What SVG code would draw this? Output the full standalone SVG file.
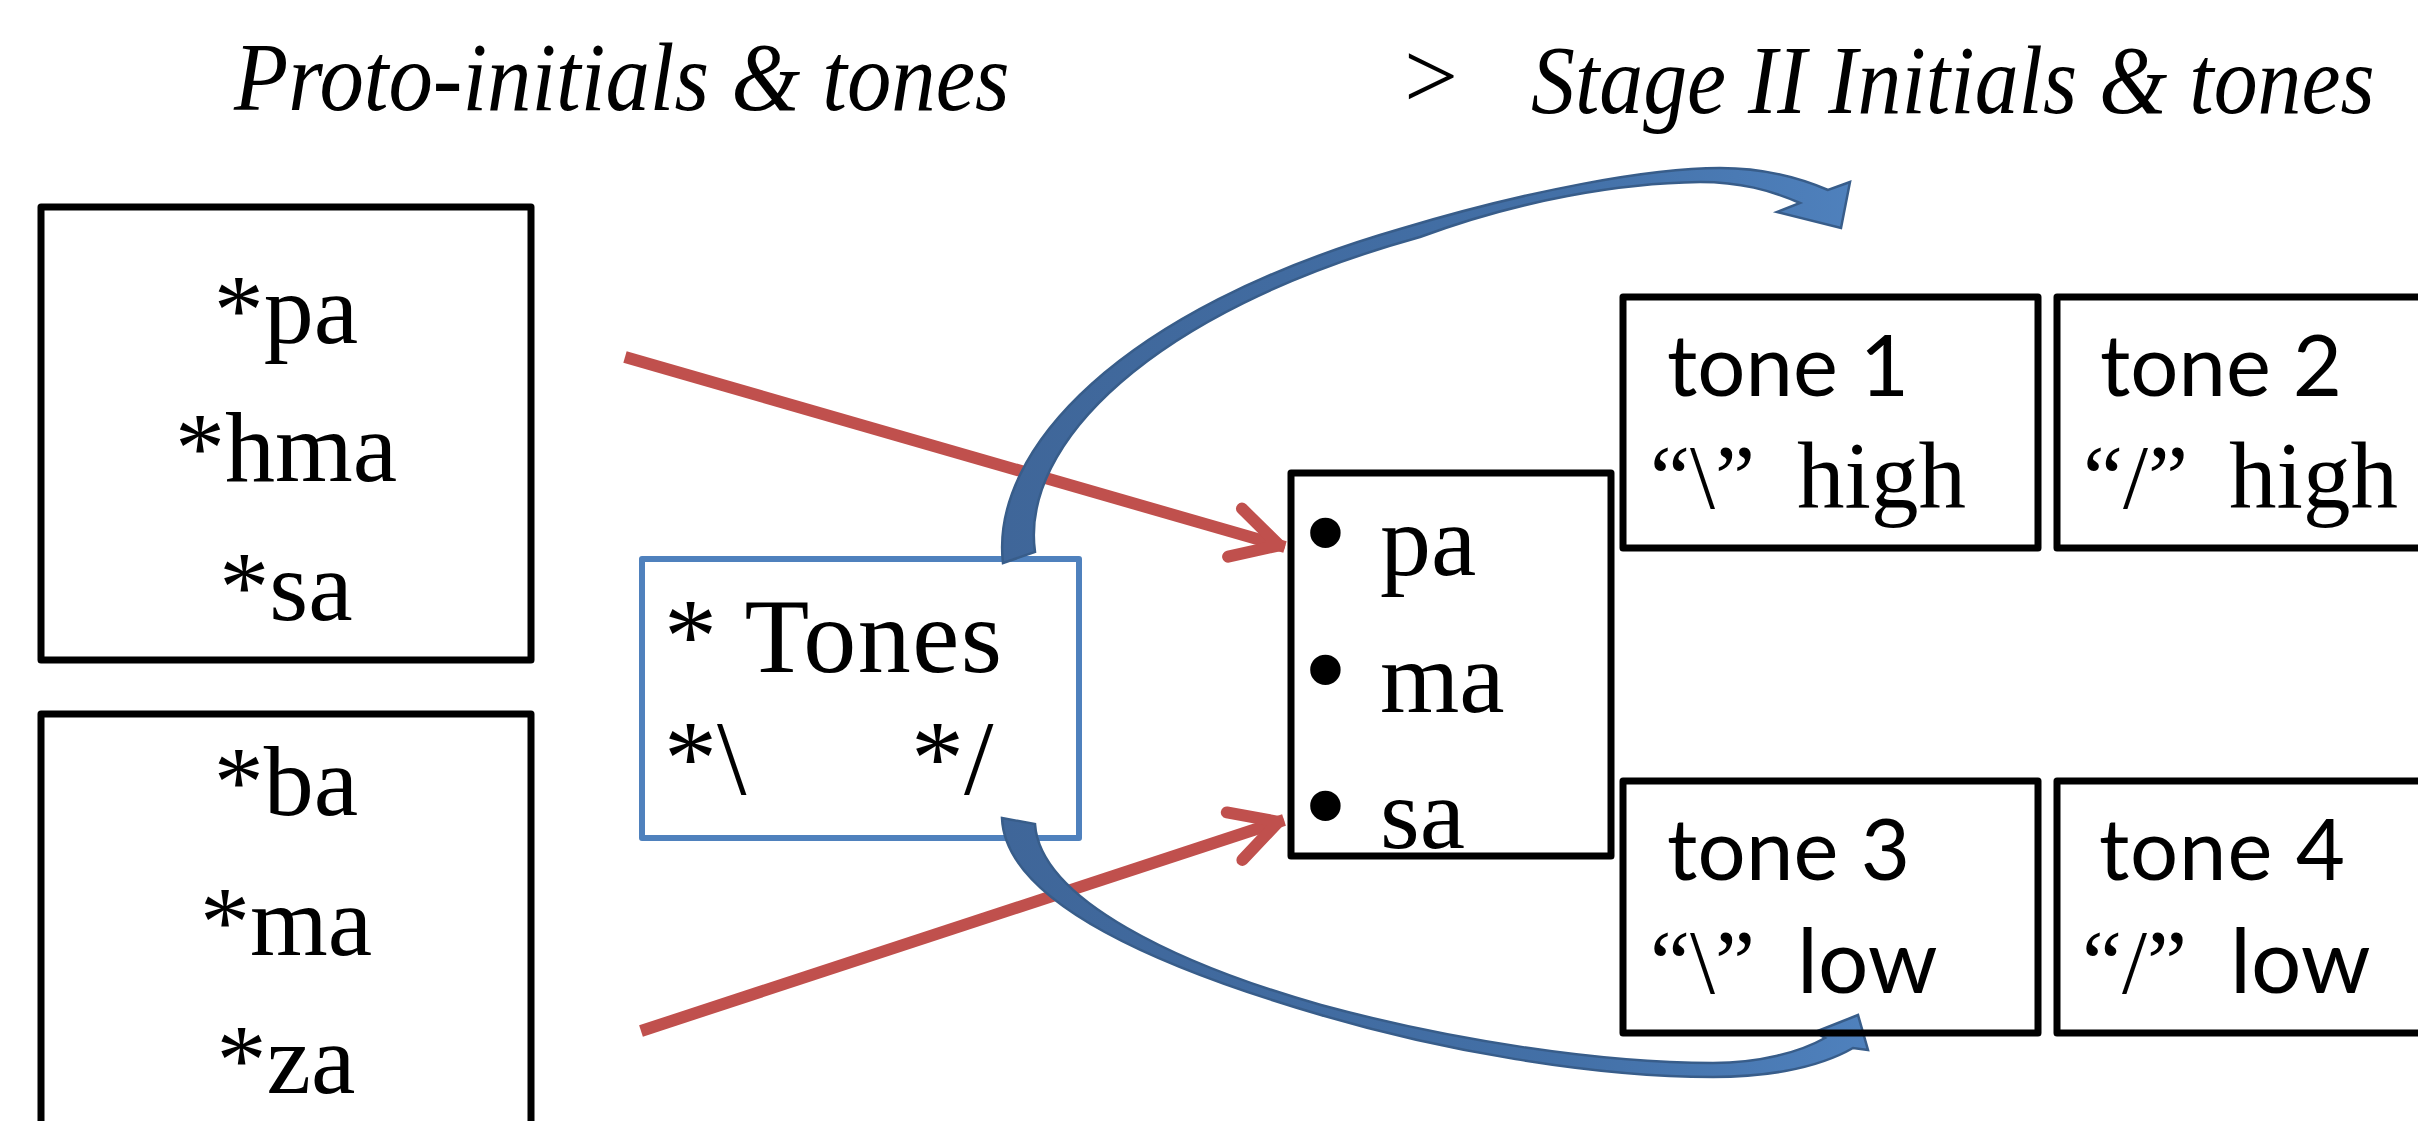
<svg xmlns="http://www.w3.org/2000/svg" width="2418" height="1121" viewBox="0 0 2418 1121">
<style>
.ser{font-family:"Liberation Serif","Times New Roman",serif;fill:#000}
.sans{font-family:Lato,"Liberation Sans",sans-serif;fill:#000}
.box{fill:none;stroke:#000;stroke-width:7;stroke-linejoin:round}
.bluebox{fill:#fff;stroke:#4F81BD;stroke-width:6;stroke-linejoin:round}
.red{fill:none;stroke:#C0504D;stroke-width:12}
.curved{stroke:#385D8A;stroke-width:2.5;stroke-linejoin:miter}
</style>
<defs>
<marker id="redhead" markerUnits="userSpaceOnUse" orient="auto" refX="0" refY="0" markerWidth="100" markerHeight="100" viewBox="-70 -50 100 100" overflow="visible">
<path d="M-52,-25 L-6,0 L-52,25" fill="none" stroke="#C0504D" stroke-width="12" stroke-linecap="round" stroke-linejoin="round"/>
</marker>
<linearGradient id="gTop" gradientUnits="userSpaceOnUse" x1="1000" y1="0" x2="1860" y2="0">
<stop offset="0" stop-color="#3F6699"/>
<stop offset="0.65" stop-color="#4370A7"/>
<stop offset="1" stop-color="#4F81BD"/>
</linearGradient>
<linearGradient id="gBot" gradientUnits="userSpaceOnUse" x1="1000" y1="0" x2="1870" y2="0">
<stop offset="0" stop-color="#3F6699"/>
<stop offset="0.65" stop-color="#4370A7"/>
<stop offset="1" stop-color="#4F81BD"/>
</linearGradient>
</defs>
<rect width="2418" height="1121" fill="#fff"/>

<g id="titles">
<text class="ser" font-style="italic" transform="translate(234,110) scale(0.915,1)" font-size="97">Proto-initials &amp; tones</text>
<text class="ser" x="1404" y="108" font-size="96">&gt;</text>
<text class="ser" font-style="italic" transform="translate(1531,113) scale(0.905,1)" font-size="97">Stage II Initials &amp; tones</text>
</g>

<g id="proto-box-1">
<rect class="box" x="41" y="207" width="490" height="453"/>
<text class="ser" font-size="100" text-anchor="middle" x="286" y="343">*pa</text>
<text class="ser" font-size="100" text-anchor="middle" x="286" y="481">*hma</text>
<text class="ser" font-size="100" text-anchor="middle" x="286" y="620">*sa</text>
</g>

<g id="proto-box-2">
<rect class="box" x="41" y="714" width="490" height="453"/>
<text class="ser" font-size="100" text-anchor="middle" x="286" y="815">*ba</text>
<text class="ser" font-size="100" text-anchor="middle" x="286" y="955">*ma</text>
<text class="ser" font-size="100" text-anchor="middle" x="286" y="1093">*za</text>
</g>

<g id="tones-box">
<rect class="bluebox" x="642" y="559" width="437" height="279"/>
<text class="ser" font-size="106" x="664" y="672" textLength="338">* Tones</text>
<text class="ser" font-size="106" y="794"><tspan x="664">*\ </tspan><tspan x="911">*/</tspan></text>
</g>

<g id="stage2-initials">
<rect class="box" x="1291" y="473" width="320" height="383"/>
<text class="ser" font-size="102" y="575"><tspan x="1303" font-size="128">• </tspan><tspan x="1380">pa</tspan></text>
<text class="ser" font-size="102" y="712"><tspan x="1303" font-size="128">• </tspan><tspan x="1380">ma</tspan></text>
<text class="ser" font-size="102" y="848"><tspan x="1303" font-size="128">• </tspan><tspan x="1380">sa</tspan></text>
</g>

<g id="connectors">
<line class="red" x1="625" y1="357" x2="1285" y2="547" marker-end="url(#redhead)"/>
<line class="red" x1="641" y1="1031" x2="1284" y2="820" marker-end="url(#redhead)"/>
<path class="curved" fill="url(#gTop)" d="M1003,563 C990,450 1120,310 1400,229 C1530,190 1650,168 1720,168 C1765,168 1800,178 1828,190 L1850,182 L1841,228 L1777,212 L1800,203 C1770,190 1740,182 1700,182 C1620,183 1520,200 1420,237 C1150,312 1020,445 1035,552 Z"/>
<path class="curved" fill="url(#gBot)" d="M1002,818 L1035,824 C1040,900 1180,965 1321,1005 C1450,1040 1600,1063 1713,1063 C1760,1063 1800,1052 1825,1038 L1815,1032 L1858,1015 L1868,1050 L1853,1048 C1815,1070 1760,1077 1713,1077 C1590,1077 1440,1050 1321,1015 C1150,965 1005,900 1002,818 Z"/>
</g>

<g id="tone-1">
<rect class="box" x="1623" y="297" width="415" height="251"/>
<text class="sans" font-size="85" x="1667" y="396" textLength="242">tone 1</text>
<text class="ser" font-size="95" y="508"><tspan x="1650" font-size="90">“\” </tspan><tspan x="1797">high</tspan></text>
</g>

<g id="tone-2">
<rect class="box" x="2057" y="297" width="415" height="251"/>
<text class="sans" font-size="85" x="2100" y="396" textLength="242">tone 2</text>
<text class="ser" font-size="95" y="508"><tspan x="2083" font-size="90">“/” </tspan><tspan x="2229">high</tspan></text>
</g>

<g id="tone-3">
<rect class="box" x="1623" y="781" width="415" height="252"/>
<text class="sans" font-size="85" x="1667" y="880" textLength="243">tone 3</text>
<text font-size="95" y="993"><tspan class="ser" font-size="90" x="1650">“\” </tspan><tspan class="sans" font-size="89" x="1797">low</tspan></text>
</g>

<g id="tone-4">
<rect class="box" x="2057" y="781" width="415" height="252"/>
<text class="sans" font-size="85" x="2099" y="880" textLength="246">tone 4</text>
<text font-size="95" y="993"><tspan class="ser" font-size="90" x="2082">“/” </tspan><tspan class="sans" font-size="89" x="2230">low</tspan></text>
</g>
</svg>
